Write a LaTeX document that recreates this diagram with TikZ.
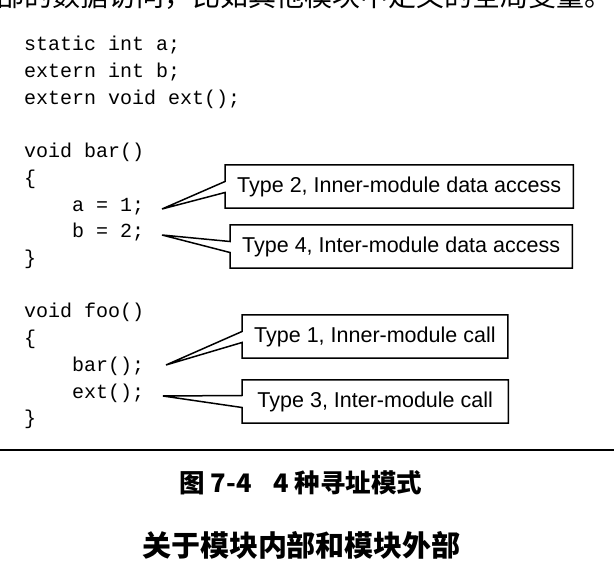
\documentclass[tikz,border=0pt]{standalone}
\usepackage{fontspec}
\setsansfont{Liberation Sans}
\setmonofont{Liberation Mono}
\newfontfamily\cjk{Noto Sans CJK SC}

\begin{document}
\begin{tikzpicture}[x=1pt,y=-1pt,
    code/.style={font=\ttfamily\fontsize{20}{20}\selectfont, anchor=base west, inner sep=0pt},
    typebox/.style={font=\sffamily\fontsize{21.5}{24}\selectfont, inner xsep=12pt, minimum height=43pt, anchor=west},
    callout/.style={line width=1.5pt, line join=miter}]
	\useasboundingbox (0,0) rectangle (614,580);
	\begin{scope}
		\clip (0,0) rectangle (614,580);
		\node[font=\cjk\fontsize{28}{28}\selectfont, anchor=base west, inner sep=0pt] (prev) at (-4,7) {部的数据访问，比如其他模块中定义的全局变量。}; % cut line of the page text
	\end{scope}
	% declarations
	\node[code] (l1) at (24,51) {static int a;};
	\node[code] (l2) at (24,77.7) {extern int b;};
	\node[code] (l3) at (24,104.4) {extern void ext();};
	% function bar
	\node[code] (l5) at (24,157.8) {void bar()};
	\node[code] (l6) at (24,184.5) {\{};
	\node[code] (l7) at (72,211.2) {a = 1;};
	\node[code] (l8) at (72,237.9) {b = 2;};
	\node[code] (l9) at (24,264.6) {\}};
	% function foo
	\node[code] (l11) at (24,318) {void foo()};
	\node[code] (l12) at (24,344.7) {\{};
	\node[code] (l13) at (72,371.4) {bar();};
	\node[code] (l14) at (72,398.1) {ext();};
	\node[code] (l15) at (24,424.8) {\}};
	% tips of the callouts
	\coordinate (tipa) at (162,209);
	\coordinate (tipb) at (162,235);
	\coordinate (tipbar) at (166,365);
	\coordinate (tipext) at (163,396);
	% callout texts
	\node[typebox] (t2) at (225,186.5) {Type 2, Inner-module data access};
	\node[typebox] (t4) at (230,246.5) {Type 4, Inter-module data access};
	\node[typebox] (t1) at (242,336.5) {Type 1, Inner-module call};
	\node[typebox, minimum width=266pt] (t3) at (242,401.5) {Type 3, Inter-module call};
	% callout outlines
	\draw[callout] (t2.north west) -- ([yshift=5pt]t2.west) -- (tipa) -- ([yshift=-6pt]t2.west) -- (t2.south west) -- (t2.south east) -- (t2.north east) -- cycle;
	\draw[callout] (t4.north west) -- ([yshift=5pt]t4.west) -- (tipb) -- ([yshift=-6pt]t4.west) -- (t4.south west) -- (t4.south east) -- (t4.north east) -- cycle;
	\draw[callout] (t1.north west) -- ([yshift=5pt]t1.west) -- (tipbar) -- ([yshift=-6pt]t1.west) -- (t1.south west) -- (t1.south east) -- (t1.north east) -- cycle;
	\draw[callout] (t3.north west) -- ([yshift=6pt]t3.west) -- (tipext) -- ([yshift=-6pt]t3.west) -- (t3.south west) -- (t3.south east) -- (t3.north east) -- cycle;
	% rule and captions
	\draw[line width=1.5pt] (0,450) -- (614,450);
	\node[font=\cjk\bfseries\fontsize{25.5}{25.5}\selectfont] (fig) at (301,483) {图 7-4\hspace{22pt}4 种寻址模式};
	\node[font=\cjk\bfseries\fontsize{29}{29}\selectfont] (sec) at (301.5,545) {关于模块内部和模块外部};
\end{tikzpicture}
\end{document}
